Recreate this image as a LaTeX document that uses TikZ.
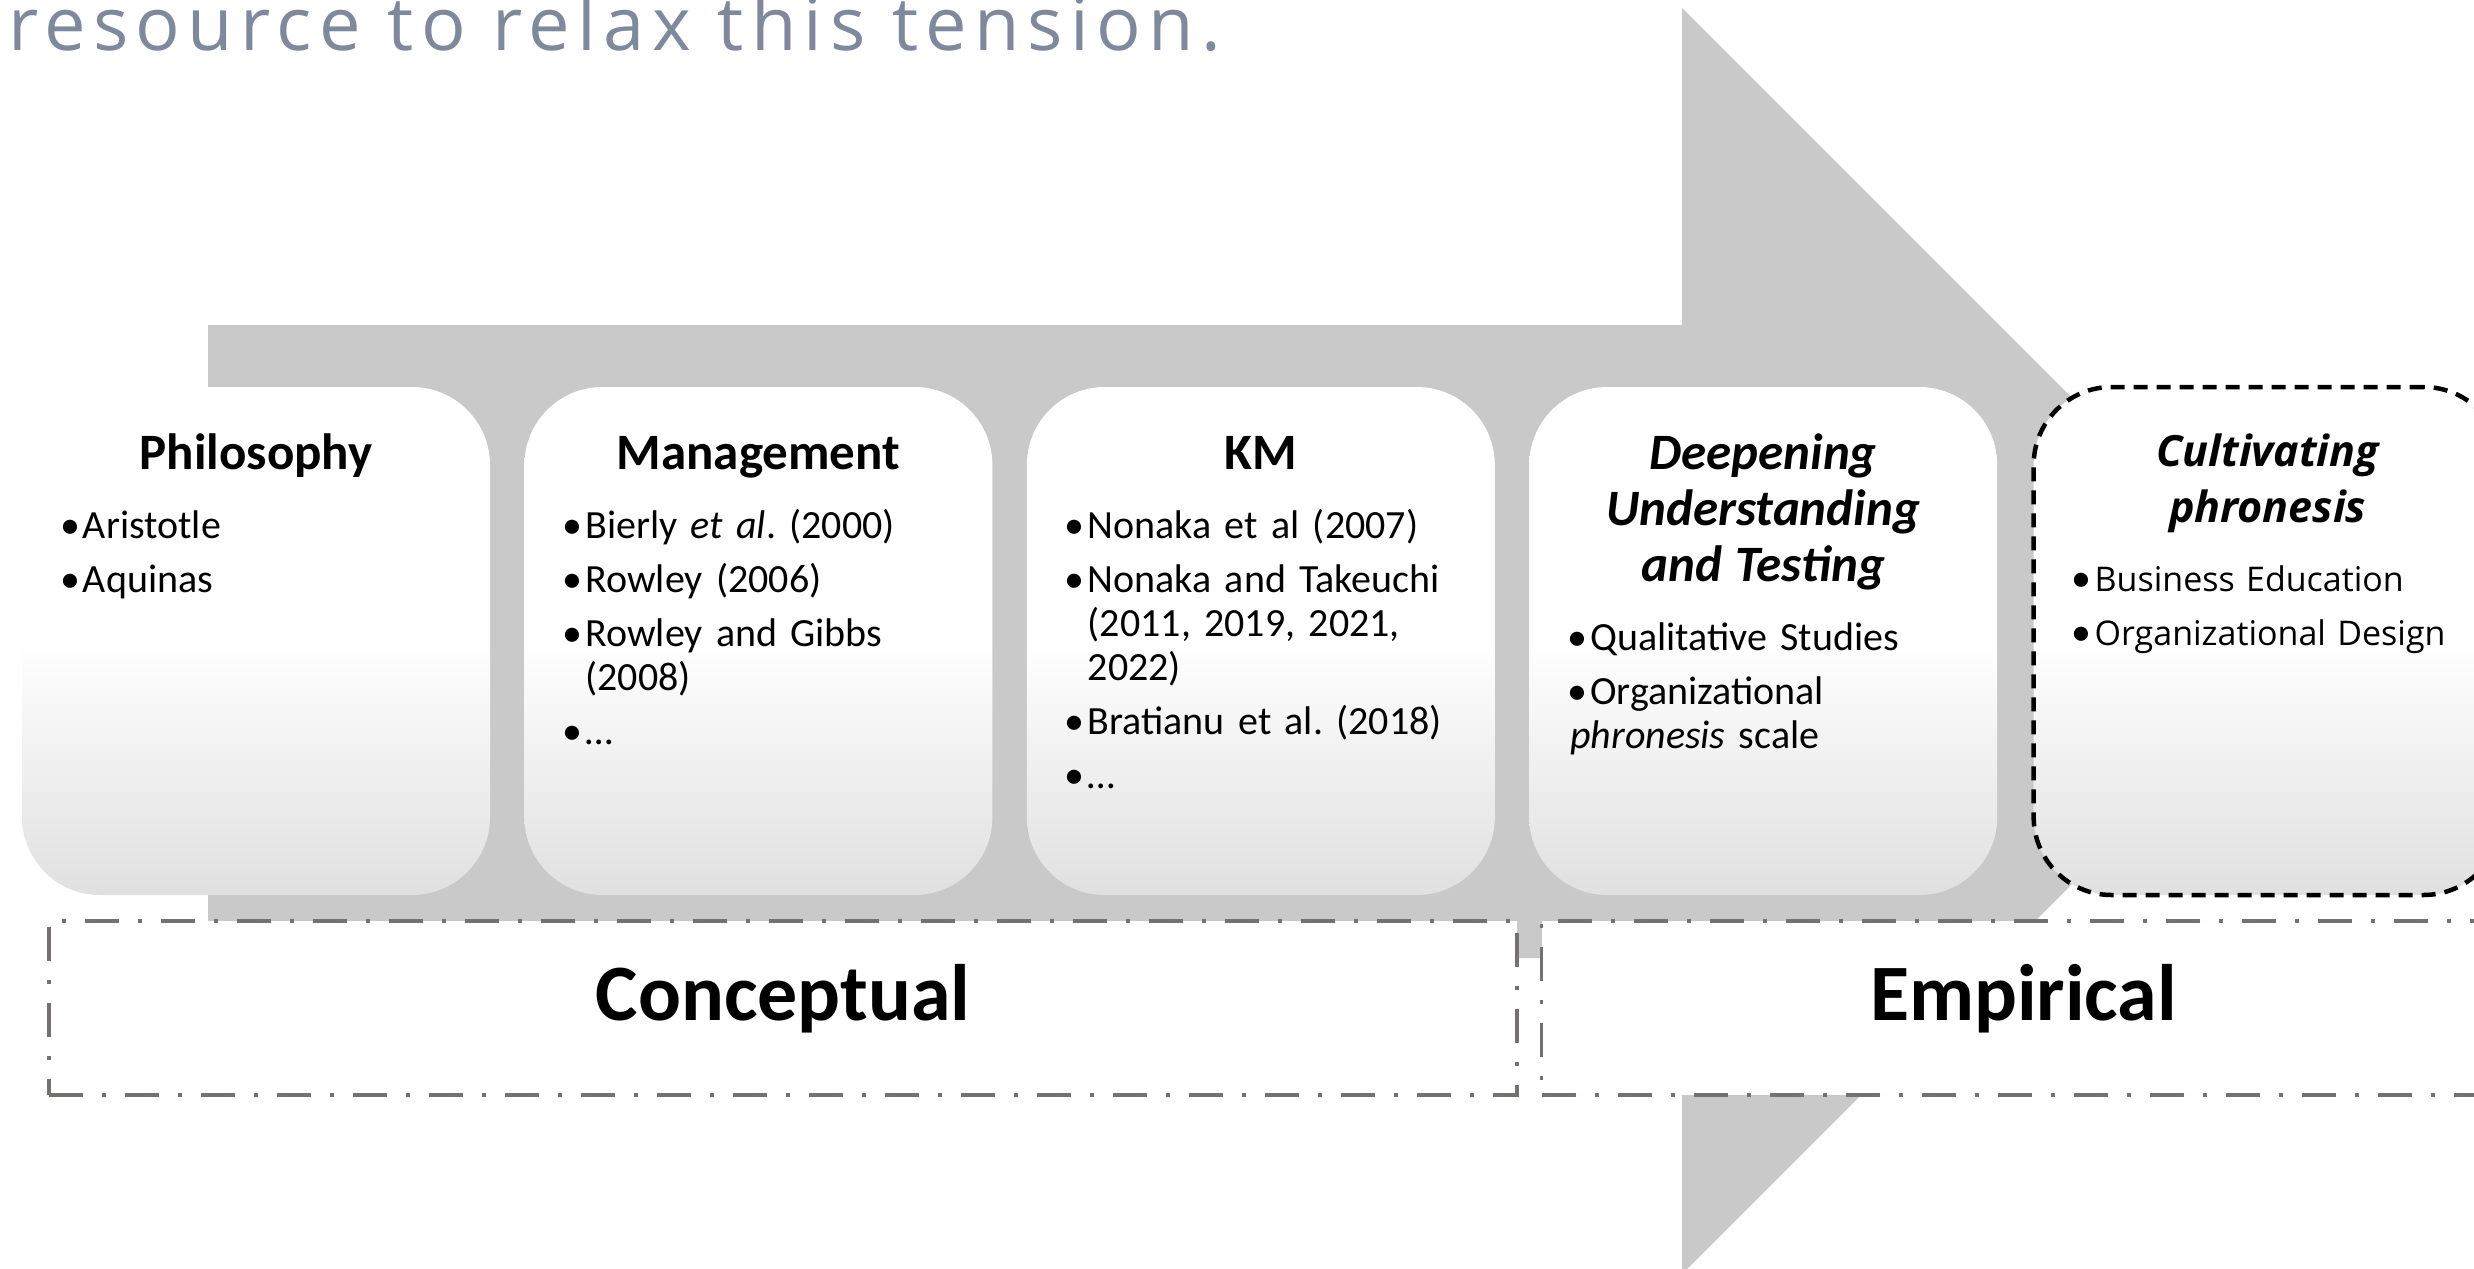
\documentclass[tikz,border=0pt]{standalone}
\usepackage{fontspec}
\setmainfont{Carlito}
\newfontfamily\opensans{Open Sans}
\newfontfamily\tagfont[LetterSpace=10]{Open Sans}
\usetikzlibrary{positioning}

\definecolor{arrowgray}{RGB}{201,201,201}
\definecolor{boxgray}{RGB}{224,224,224}
\definecolor{framegray}{RGB}{118,113,113}
\definecolor{tagblue}{RGB}{127,137,158}

\newcommand\stagehead[2][]{{\centering\fontsize{51}{56}\selectfont\bfseries#1\rule{0pt}{40pt}#2\par}\vspace{15pt}}
\newcommand\ent[1]{\par\vspace{10pt}\hangindent=20pt\hangafter=1\noindent
  \makebox[20pt][l]{\hspace{-3pt}{\rmfamily\fontsize{40}{44}\selectfont\textbullet}}#1}

\begin{document}
\frenchspacing
\begin{tikzpicture}[x=1pt,y=-1pt,
  stage/.style={rounded corners=78pt,minimum width=468pt,minimum height=508pt,inner sep=0pt,
    top color=white,bottom color=boxgray,middle color=white},
  notes/.style={text width=386pt,inner sep=0pt,align=left,font=\fontsize{40}{44}\selectfont},
  phase/.style={draw=framegray,line width=3.5pt,dash pattern=on 34pt off 19pt on 4pt off 19pt,
    fill=white,inner sep=0pt,text height=40pt,text depth=16pt,font=\fontsize{80}{96}\selectfont\bfseries}]
\path[use as bounding box] (0,0) rectangle (2474,1269);
\clip (0,0) rectangle (2474,1269);
\node[anchor=base west,inner sep=0pt,text=tagblue,font=\tagfont\fontsize{74}{88}\selectfont] (tag) at (8,50) {resource to relax this tension.};
\fill[arrowgray] (208,325) -- (1682,325) -- (1682,8) -- (2315,641) -- (1682,1274) -- (1682,958) -- (208,958) -- cycle;
\node[stage] (phil) at (256,641) {};
\node[stage,right=34pt of phil] (mgmt) {};
\node[stage,right=34pt of mgmt] (km) {};
\node[stage,right=34pt of km] (deep) {};
\node[stage,right=34pt of deep,draw=black,line width=4.5pt,dash pattern=on 14pt off 9pt] (cult) {};
\node[notes,below=42pt of phil.north] (philT) {\stagehead{Philosophy}\ent{Aristotle}\ent{Aquinas}};
\node[notes,below=42pt of mgmt.north] (mgmtT) {\stagehead{Management}\ent{Bierly \textit{et al}. (2000)}\ent{Rowley (2006)}\ent{Rowley and Gibbs\newline(2008)}\ent{\ldots}};
\node[notes,below=42pt of km.north] (kmT) {\stagehead{KM}\ent{Nonaka et al (2007)}\ent{Nonaka and Takeuchi\newline(2011, 2019, 2021,\newline2022)}\ent{Bratianu et al. (2018)}\ent{\ldots}};
\node[notes,below=42pt of deep.north] (deepT) {\stagehead[\itshape]{Deepening\\Understanding\\and Testing}\ent{Qualitative Studies}\ent{Organizational\newline\textit{phronesis} scale}};
\node[notes,font=\opensans\fontsize{34}{44}\selectfont,below=42pt of cult.north] (cultT) {\stagehead[\itshape\fontsize{43}{56}\selectfont]{Cultivating\\phronesis}\ent{Business Education}\ent{Organizational Design}};
\node[phase,minimum width=1468pt,minimum height=174pt] (concept) at (783,1008) {Conceptual};
\node[phase,minimum width=964pt,minimum height=174pt,right=21pt of concept] (empir) {Empirical};
\end{tikzpicture}
\end{document}
